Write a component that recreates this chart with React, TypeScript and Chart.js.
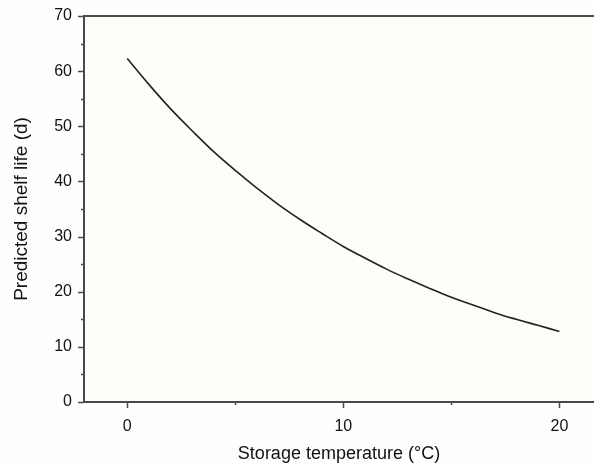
import React, { useEffect, useRef } from "react";
import { Chart, registerables } from "chart.js";

Chart.register(...registerables);

// Storage temperature (°C)
const temperatures = [0, 1, 2, 3, 4, 5, 6, 7, 8, 9, 10, 11, 12, 13, 14, 15, 16, 17, 18, 19, 20];
// Predicted shelf life (d)
const shelfLife = [62.3, 57.6, 53.2, 49.2, 45.4, 42.0, 38.8, 35.8, 33.1, 30.6, 28.2, 26.1, 24.1, 22.3, 20.6, 19.0, 17.6, 16.2, 15.0, 13.9, 12.8];

const xTitle = "Storage temperature (\u00B0C)";
const yTitle = "Predicted shelf life (d)";

const AXIS_COLOR = "#4a4a4a";
const FONT = "'Liberation Sans', Arial, sans-serif";

const framePlugin = {
  id: "frame",
  beforeDraw(chart: any) {
    const { ctx, chartArea } = chart;
    ctx.save();
    ctx.fillStyle = "#fefdfa";
    ctx.fillRect(chartArea.left, chartArea.top, chartArea.right - chartArea.left, chartArea.bottom - chartArea.top);
    ctx.restore();
  },
  afterDraw(chart: any) {
    const { ctx, chartArea } = chart;
    const xs = chart.scales.x;
    const ys = chart.scales.y;
    ctx.save();
    ctx.strokeStyle = AXIS_COLOR;
    ctx.lineWidth = 2;
    ctx.beginPath();
    ctx.moveTo(chartArea.left - 1, chartArea.top);
    ctx.lineTo(chartArea.right, chartArea.top);
    ctx.stroke();
    ctx.lineWidth = 1.5;
    xs.ticks.forEach((t: any) => {
      const px = Math.round(xs.getPixelForValue(t.value)) + 0.5;
      const len = t.value % 10 === 0 ? 6 : 3;
      ctx.beginPath();
      ctx.moveTo(px, chartArea.bottom);
      ctx.lineTo(px, chartArea.bottom + len);
      ctx.stroke();
    });
    ys.ticks.forEach((t: any) => {
      const py = Math.round(ys.getPixelForValue(t.value)) + 0.5;
      const len = t.value % 10 === 0 ? 6 : 3;
      ctx.beginPath();
      ctx.moveTo(chartArea.left, py);
      ctx.lineTo(chartArea.left - len, py);
      ctx.stroke();
    });
    ctx.restore();
  },
};

export default function App() {
  const canvasRef = useRef<HTMLCanvasElement | null>(null);

  useEffect(() => {
    if (!canvasRef.current) return;
    const chart = new Chart(canvasRef.current, {
      type: "line",
      data: {
        datasets: [
          {
            data: temperatures.map((t, i) => ({ x: t, y: shelfLife[i] })),
            borderColor: "#222222",
            borderWidth: 1.6,
            pointRadius: 0,
            tension: 0.4,
            fill: false,
          },
        ],
      },
      options: {
        animation: false,
        responsive: false,
        maintainAspectRatio: false,
        layout: { padding: { top: 16, left: 0, right: 0, bottom: 0 } },
        plugins: {
          legend: { display: false },
          tooltip: { enabled: false },
        },
        scales: {
          x: {
            type: "linear",
            min: -2,
            max: 21.6,
            afterFit: (s: any) => {
              s.height = 64;
              s.paddingLeft = 0;
              s.paddingRight = 0;
            },
            grid: { display: false },
            border: { display: true, color: AXIS_COLOR, width: 2 },
            ticks: {
              stepSize: 5,
              includeBounds: false,
              autoSkip: false,
              maxRotation: 0,
              padding: 7,
              color: "#111",
              font: { family: FONT, size: 16 },
              callback: (v: any) => (Number(v) % 10 === 0 ? String(v) : ""),
            },
            title: {
              display: true,
              text: xTitle,
              color: "#111",
              font: { family: FONT, size: 18 },
              padding: { top: 0, bottom: 1 },
            },
          },
          y: {
            type: "linear",
            min: 0,
            max: 70,
            afterFit: (s: any) => {
              s.width = 84;
              s.paddingTop = 0;
              s.paddingBottom = 0;
            },
            grid: { display: false },
            border: { display: true, color: AXIS_COLOR, width: 2 },
            ticks: {
              stepSize: 5,
              includeBounds: false,
              autoSkip: false,
              padding: 4,
              color: "#111",
              font: { family: FONT, size: 16 },
              callback: (v: any) => (Number(v) % 10 === 0 ? String(v) : ""),
            },
            title: {
              display: true,
              text: yTitle,
              color: "#111",
              font: { family: FONT, size: 19 },
              padding: { top: 10, bottom: 0 },
            },
          },
        },
      },
      plugins: [framePlugin],
    } as any);
    return () => chart.destroy();
  }, []);

  return (
    <div style={{ position: "absolute", left: 0, top: 0, width: 594, height: 466, background: "#fefefe" }}>
      <canvas ref={canvasRef} width={594} height={466} style={{ display: "block", width: 594, height: 466 }} />
    </div>
  );
}
